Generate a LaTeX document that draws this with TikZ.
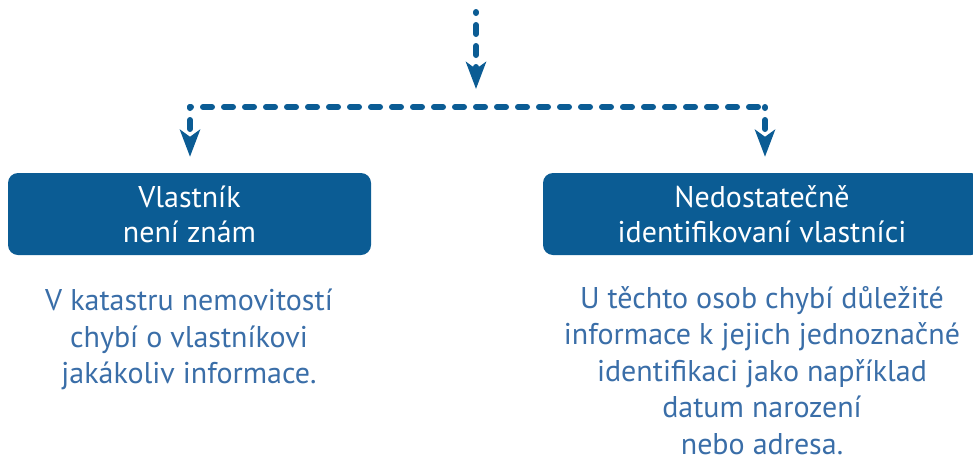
\documentclass[tikz,border=0pt]{standalone}
\usepackage{fontspec}
\setmainfont{PT Sans}
\usetikzlibrary{arrows.meta}
\definecolor{boxblue}{HTML}{0B5C94}
\definecolor{txtblue}{HTML}{3A6EA8}
\definecolor{linkblue}{HTML}{0B5C94}
\tikzset{
  hdr/.style={draw=none, fill=boxblue, rounded corners=10pt, text=white, align=center,
    font=\fontsize{30}{35}\selectfont, minimum height=82pt, inner sep=0pt},
  body/.style={text=txtblue, align=center, font=\fontsize{30}{36.5}\selectfont, inner sep=0pt, anchor=north},
  link/.style={draw=linkblue, line width=6pt, line cap=round, dash pattern=on 9pt off 12pt, dash phase=8pt},
  tip/.style={-{Stealth[length=27pt, width=20pt, inset=7pt, line cap=butt]}}
}
\begin{document}
\begin{tikzpicture}[x=1pt, y=-1pt]
\useasboundingbox (0,0) rectangle (973,461);
\node[hdr, minimum width=363pt] (b1) at (189.5,214) {Vlastník\\není znám};
\node[hdr, minimum width=438pt] (b2) at (762,214) {Nedostatečně\\identifikovaní vlastníci};
\node[body] (t1) at (189,289) {V katastru nemovitostí\\chybí o vlastníkovi\\jakákoliv informace.};
\node[body] (t2) at (762,286) {U těchto osob chybí důležité\\informace k jejich jednoznačné\\identifikaci jako například\\datum narození\\nebo adresa.};
\coordinate (src) at (476,12);
\coordinate (mid) at (476,89);
\coordinate (hl) at (190,107);
\coordinate (hr) at (765,107);
\draw[link, tip] (src) -- (mid);
\draw[link] (hl) -- (hr);
\draw[link, tip, shorten >=16pt] (hl) -- (hl |- b1.north);
\draw[link, tip, shorten >=16pt] (hr) -- (hr |- b2.north);
\end{tikzpicture}
\end{document}
